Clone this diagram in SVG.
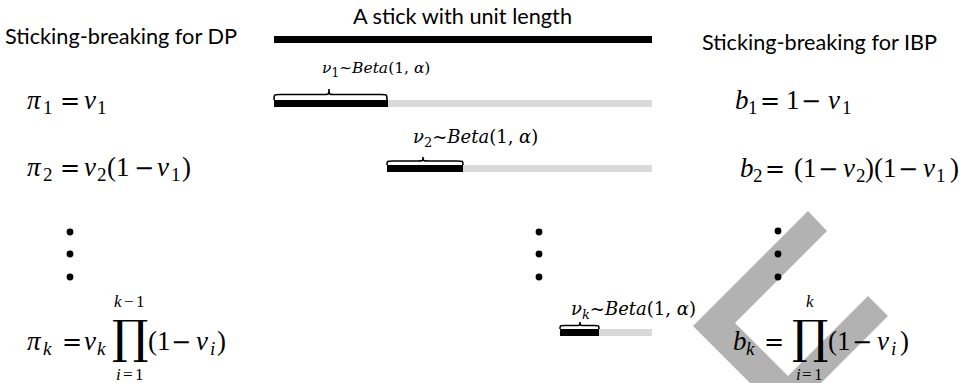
<svg xmlns="http://www.w3.org/2000/svg" width="967" height="383" viewBox="0 0 967 383">
<style>
.sans{font-family:Lato,"Liberation Sans",sans-serif;font-size:22px;fill:#000}
.m{font-family:"Liberation Serif","DejaVu Serif",serif;font-size:27px;fill:#000}
.op{font-family:"DejaVu Serif","Liberation Serif",serif;font-size:24px}
.i{font-style:italic}
.s{font-size:19px}
.ls{font-size:17px}
.lbl{font-family:"DejaVu Serif","Liberation Serif",serif;fill:#000}
.prod{font-family:"DejaVu Serif","Liberation Serif",serif;font-size:46px;font-style:normal}
.bk{fill:#000}
.gy{fill:#d9d9d9}
.brace{fill:none;stroke:#000;stroke-width:1.6}
.dot{fill:#000}
.wm{fill:#b2b2b2}
</style>
<g id="watermark">
<polygon class="wm" points="808,211 827,231 735,323 788,376 868,296 888,316 785.5,418.5 693,326"/>
</g>
<g id="title">
<text class="sans" x="353" y="24" textLength="219" lengthAdjust="spacingAndGlyphs">A stick with unit length</text>
</g>
<g id="dp-header">
<text class="sans" x="5" y="44" textLength="232" lengthAdjust="spacingAndGlyphs">Sticking-breaking for DP</text>
</g>
<g id="ibp-header">
<text class="sans" x="702" y="50" textLength="235" lengthAdjust="spacingAndGlyphs">Sticking-breaking for IBP</text>
</g>
<g id="stick-unit">
<rect class="bk" x="274" y="36" width="378" height="7"/>
</g>
<g id="stick-1">
<rect class="bk" x="274" y="100" width="114" height="7"/>
<rect class="gy" x="388" y="100" width="264" height="7"/>
<path class="brace" d="M274 100 C274 94.5 274 94.5 280 94.5 L323 94.5 C329 94.5 329 94.5 329 89 C329 94.5 329 94.5 335 94.5 L381 94.5 C387 94.5 387 94.5 387 100"/>
<text class="lbl" x="322" y="73" font-size="15.5"><tspan class="i">ν</tspan><tspan font-size="12" dy="4">1</tspan><tspan dy="-4">~</tspan><tspan class="i">Beta</tspan>(1, <tspan class="i">α</tspan>)</text>
</g>
<g id="stick-2">
<rect class="bk" x="387" y="165" width="76" height="7"/>
<rect class="gy" x="463" y="165" width="189" height="7"/>
<path class="brace" d="M387 165 C387 161 387 161 393 161 L417 161 C423 161 423 161 423 157 C423 161 423 161 429 161 L457 161 C463 161 463 161 463 165"/>
<text class="lbl" x="413" y="143" font-size="18"><tspan class="i">ν</tspan><tspan font-size="13" dy="4">2</tspan><tspan dy="-4">~</tspan><tspan class="i">Beta</tspan>(1, <tspan class="i">α</tspan>)</text>
</g>
<g id="stick-k">
<rect class="bk" x="560" y="329" width="39" height="7"/>
<rect class="gy" x="599" y="329" width="53" height="7"/>
<path class="brace" d="M560 329 C560 325.5 560 325.5 565 325.5 L575 325.5 C580 325.5 580 325.5 580 322 C580 325.5 580 325.5 585 325.5 L594 325.5 C599 325.5 599 325.5 599 329"/>
<text class="lbl" x="571" y="315" font-size="18"><tspan class="i">ν</tspan><tspan class="i" font-size="13" dy="4">k</tspan><tspan dy="-4">~</tspan><tspan class="i">Beta</tspan>(1, <tspan class="i">α</tspan>)</text>
</g>
<g id="dots">
<circle class="dot" cx="70" cy="232" r="3.4"/>
<circle class="dot" cx="70" cy="254" r="3.4"/>
<circle class="dot" cx="70" cy="277" r="3.4"/>
<circle class="dot" cx="539" cy="232" r="3.4"/>
<circle class="dot" cx="539" cy="254" r="3.4"/>
<circle class="dot" cx="539" cy="277" r="3.4"/>
<circle class="dot" cx="778" cy="231" r="3.4"/>
<circle class="dot" cx="778" cy="254" r="3.4"/>
<circle class="dot" cx="778" cy="277" r="3.4"/>
</g>
<g id="pi-1">
<text class="m"><tspan class="i" x="27" y="109">π</tspan><tspan class="s" x="43" y="114">1</tspan><tspan class="op" x="60" y="109">=</tspan><tspan class="i" x="84" y="109">ν</tspan><tspan class="s" x="97" y="114">1</tspan></text>
</g>
<g id="pi-2">
<text class="m"><tspan class="i" x="27" y="176">π</tspan><tspan class="s" x="43" y="181">2</tspan><tspan class="op" x="60" y="176">=</tspan><tspan class="i" x="84" y="176">ν</tspan><tspan class="s" x="97" y="181">2</tspan><tspan x="107" y="176">(1</tspan><tspan class="op" x="134" y="176">−</tspan><tspan class="i" x="157" y="176">ν</tspan><tspan class="s" x="171" y="181">1</tspan><tspan x="182" y="176">)</tspan></text>
</g>
<g id="pi-k">
<text class="m"><tspan class="i" x="27" y="350">π</tspan><tspan class="s i" x="43" y="355">k</tspan><tspan class="op" x="62" y="350">=</tspan><tspan class="i" x="84" y="350">ν</tspan><tspan class="s i" x="97" y="355">k</tspan><tspan class="prod" x="112" y="353">∏</tspan><tspan class="ls i" x="114" y="306.5">k</tspan><tspan class="ls" x="124" y="306.5">−</tspan><tspan class="ls" x="136" y="306.5">1</tspan><tspan class="ls i" x="116" y="380">i</tspan><tspan class="ls" x="123" y="380">=</tspan><tspan class="ls" x="135" y="380">1</tspan><tspan x="148" y="350">(1</tspan><tspan class="op" x="171" y="350">−</tspan><tspan class="i" x="196" y="350">ν</tspan><tspan class="s i" x="210" y="355">i</tspan><tspan x="217" y="350">)</tspan></text>
</g>
<g id="b-1">
<text class="m"><tspan class="i" x="735" y="109">b</tspan><tspan class="s" x="748" y="114">1</tspan><tspan class="op" x="760" y="109">=</tspan><tspan x="786" y="109">1</tspan><tspan class="op" x="801" y="109">−</tspan><tspan class="i" x="828" y="109">ν</tspan><tspan class="s" x="842" y="114">1</tspan></text>
</g>
<g id="b-2">
<text class="m"><tspan class="i" x="740" y="177">b</tspan><tspan class="s" x="753" y="182">2</tspan><tspan class="op" x="765" y="177">=</tspan><tspan x="794" y="177">(1</tspan><tspan class="op" x="818" y="177">−</tspan><tspan class="i" x="843" y="177">ν</tspan><tspan class="s" x="856" y="182">2</tspan><tspan x="865" y="177">)(1</tspan><tspan class="op" x="898" y="177">−</tspan><tspan class="i" x="923" y="177">ν</tspan><tspan class="s" x="936" y="182">1</tspan><tspan x="950" y="177">)</tspan></text>
</g>
<g id="b-k">
<text class="m"><tspan class="i" x="733" y="350">b</tspan><tspan class="s i" x="746" y="355">k</tspan><tspan class="op" x="764" y="350">=</tspan><tspan class="prod" x="792" y="353">∏</tspan><tspan class="ls i" x="806" y="306.5">k</tspan><tspan class="ls i" x="796" y="380">i</tspan><tspan class="ls" x="802" y="380">=</tspan><tspan class="ls" x="814" y="380">1</tspan><tspan x="828" y="350">(1</tspan><tspan class="op" x="852" y="350">−</tspan><tspan class="i" x="877" y="350">ν</tspan><tspan class="s i" x="891" y="355">i</tspan><tspan x="900" y="350">)</tspan></text>
</g>
</svg>
